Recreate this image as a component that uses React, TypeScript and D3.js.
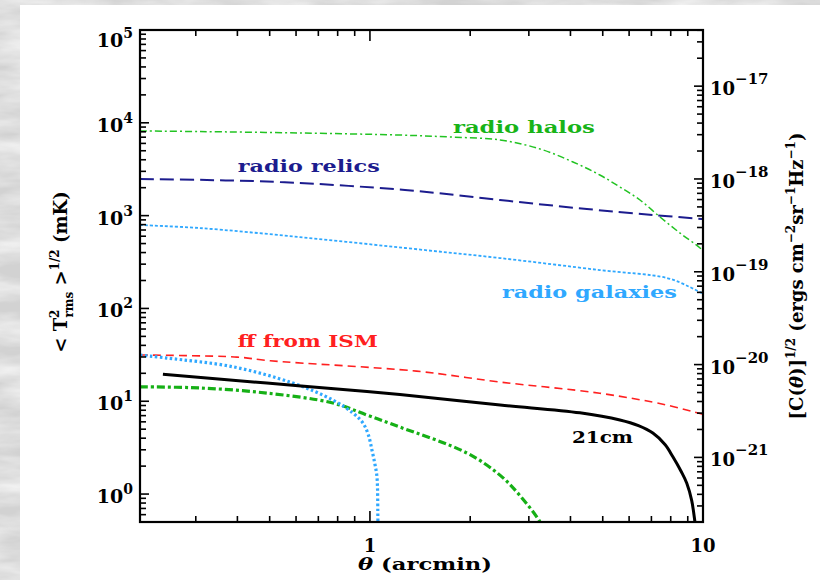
import React, { useEffect, useRef } from 'react';
import * as d3 from 'd3';

// theta in arcmin, T in mK
const halosTheta = [0.204, 0.308, 0.616, 1.23, 1.738, 2.46, 3.24, 4.07, 4.9, 5.63, 6.47, 7.43, 8.53, 9.8, 10.2];
const halosT = [8170, 8050, 7770, 7380, 7030, 6530, 5230, 3785, 2740, 2034, 1473, 966, 649, 448, 390];

const relicsTheta = [0.204, 0.324, 0.537, 1.274, 2.456, 4.48, 7.07, 9.9, 10.2];
const relicsT = [2478, 2420, 2300, 1888, 1473, 1178, 1016, 921, 910];

const galaxiesTheta = [0.204, 0.308, 0.616, 1.274, 2.456, 4.9, 7.79, 9.13, 9.9, 10.2];
const galaxiesT = [792, 735, 587, 448, 349, 259, 213, 170, 147, 140];

const ffTheta = [0.204, 0.399, 0.502, 1.38, 2.456, 4.9, 7.79, 9.9, 10.2];
const ffT = [31.5, 29.9, 27.3, 21.1, 16.1, 12.2, 9.1, 7.28, 7.1];

const cm21Theta = [0.239, 0.49, 0.98, 1.23, 2.46, 4.27, 5.63, 6.4, 7.07, 7.7, 8.12, 8.6, 8.94, 9.25, 9.46, 9.55];
const cm21T = [19.5, 15.7, 12.7, 11.8, 9.1, 7.5, 6.27, 5.45, 4.54, 3.4, 2.52, 1.75, 1.31, 0.85, 0.5, 0.4];

const blueThickTheta = [0.204, 0.246, 0.388, 0.587, 0.774, 0.889, 0.953, 0.99, 1.014, 1.035, 1.05, 1.057, 1.06];
const blueThickT = [31.5, 29.2, 23.5, 15.7, 10.3, 7.46, 5.82, 4.3, 2.98, 2.1, 1.52, 0.5, 0.4];

const greenThickTheta = [0.204, 0.308, 0.49, 0.774, 0.98, 1.23, 1.955, 2.456, 2.83, 3.24, 3.3];
const greenThickT = [14.3, 13.9, 12.25, 9.57, 7.1, 5.27, 2.77, 1.6, 0.95, 0.5, 0.42];

const labelTexts = ['radio halos', 'radio relics', 'radio galaxies', 'ff from ISM', '21cm'];
const labelTheta = [1.775, 0.401, 2.49, 0.401, 4.04];
const labelT = [7770, 2950, 129, 38.4, 3.54];

const leftTickExps = [0, 1, 2, 3, 4, 5];
const rightTickExps = [-21, -20, -19, -18, -17];
const xTickLabels = [1, 10];

// mK -> ergs cm^-2 sr^-1 Hz^-1
const convFactor = Math.pow(10, -21.395);

const W = 820;
const H = 580;
const plot = { left: 140, top: 30, right: 703, bottom: 522 };
const font = '"DejaVu Serif", serif';

const Chart = () => {
    const svgRef = useRef<SVGSVGElement>(null);

    useEffect(() => {
        const svg = d3.select(svgRef.current);
        svg.selectAll('*').remove();

        // backdrop
        const defs = svg.append('defs');
        const f = defs.append('filter').attr('id', 'marble')
            .attr('x', 0).attr('y', 0).attr('width', '100%').attr('height', '100%');
        f.append('feTurbulence').attr('type', 'fractalNoise')
            .attr('baseFrequency', '0.012 0.05').attr('numOctaves', 4).attr('seed', 7);
        f.append('feColorMatrix').attr('type', 'matrix')
            .attr('values', '0 0 0 0 1  0 0 0 0 1  0 0 0 0 1  1.4 0 0 0 -0.45');
        defs.append('clipPath').attr('id', 'plotClip').append('rect')
            .attr('x', plot.left).attr('y', plot.top)
            .attr('width', plot.right - plot.left).attr('height', plot.bottom - plot.top);

        svg.append('rect').attr('width', W).attr('height', H).attr('fill', '#d2d2d2');
        svg.append('rect').attr('width', W).attr('height', H).attr('filter', 'url(#marble)');
        svg.append('rect').attr('x', 20).attr('y', 5).attr('width', W - 20).attr('height', H - 5).attr('fill', '#fff');

        const x = d3.scaleLog().domain([0.204, 10]).range([plot.left, plot.right]);
        const y = d3.scaleLog().domain([0.5, 1e5]).range([plot.bottom, plot.top]);
        const yR = d3.scaleLog().domain([0.5 * convFactor, 1e5 * convFactor]).range([plot.bottom, plot.top]);

        const isMajor = (v: number) => Math.abs(Math.log10(v) - Math.round(Math.log10(v))) < 1e-6;

        // curves
        const series = [
            { th: halosTheta, t: halosT, color: '#22c322', width: 1.5, dash: '7 3 2 3' },
            { th: relicsTheta, t: relicsT, color: '#1c1c8e', width: 2, dash: '14 6' },
            { th: galaxiesTheta, t: galaxiesT, color: '#2fa8ff', width: 1.8, dash: '3 2' },
            { th: ffTheta, t: ffT, color: '#ff2020', width: 1.6, dash: '8 5' },
            { th: greenThickTheta, t: greenThickT, color: '#16b016', width: 3.2, dash: '8 3 3 3' },
            { th: blueThickTheta, t: blueThickT, color: '#2fa8ff', width: 3.2, dash: '2.5 2.5' },
            { th: cm21Theta, t: cm21T, color: '#000', width: 3, dash: null },
        ];
        const line = d3.line<[number, number]>()
            .x(d => x(d[0]))
            .y(d => y(d[1]))
            .curve(d3.curveCatmullRom.alpha(0.5));
        const g = svg.append('g').attr('clip-path', 'url(#plotClip)');
        series.forEach(s => {
            const pts: [number, number][] = s.th.map((v, i) => [v, s.t[i]]);
            g.append('path')
                .attr('d', line(pts))
                .attr('fill', 'none')
                .attr('stroke', s.color)
                .attr('stroke-width', s.width)
                .attr('stroke-dasharray', s.dash);
        });

        // ticks
        const tk = svg.append('g').attr('stroke', '#000').attr('stroke-width', 1.6);
        x.ticks().forEach(v => {
            const len = isMajor(v) ? 11 : 6;
            tk.append('line').attr('x1', x(v)).attr('x2', x(v)).attr('y1', plot.bottom).attr('y2', plot.bottom - len);
            tk.append('line').attr('x1', x(v)).attr('x2', x(v)).attr('y1', plot.top).attr('y2', plot.top + len);
        });
        y.ticks().forEach(v => {
            const len = isMajor(v) ? 9 : 6;
            tk.append('line').attr('x1', plot.left).attr('x2', plot.left + len).attr('y1', y(v)).attr('y2', y(v));
        });
        yR.ticks().forEach(v => {
            const len = isMajor(v) ? 9 : 6;
            tk.append('line').attr('x1', plot.right).attr('x2', plot.right - len).attr('y1', yR(v)).attr('y2', yR(v));
        });

        svg.append('rect')
            .attr('x', plot.left).attr('y', plot.top)
            .attr('width', plot.right - plot.left).attr('height', plot.bottom - plot.top)
            .attr('fill', 'none').attr('stroke', '#000').attr('stroke-width', 2.2);

        const txt = svg.append('g').attr('font-family', font).attr('font-weight', 'bold').attr('fill', '#000');

        // left tick labels
        leftTickExps.forEach(e => {
            const yy = Math.max(y(Math.pow(10, e)) + 9, plot.top + 17);
            const t = txt.append('text').attr('x', 133).attr('y', yy).attr('text-anchor', 'end').attr('font-size', 19);
            t.append('tspan').text('10');
            t.append('tspan').attr('dy', -9).attr('font-size', 14).text(String(e));
        });
        // right tick labels
        rightTickExps.forEach(e => {
            const yy = yR(Math.pow(10, e)) + 9;
            const t = txt.append('text').attr('x', 710).attr('y', yy).attr('font-size', 18);
            t.append('tspan').text('10');
            t.append('tspan').attr('dy', -11).attr('font-size', 15).text('\u2212' + String(-e));
        });
        // x tick labels
        xTickLabels.forEach(v => {
            txt.append('text').attr('x', x(v)).attr('y', 552).attr('text-anchor', 'middle')
                .attr('font-size', 18).text(String(v));
        });

        // axis titles
        const xt = txt.append('text').attr('x', 425).attr('y', 570).attr('text-anchor', 'middle')
            .attr('font-size', 17).attr('textLength', 134).attr('lengthAdjust', 'spacingAndGlyphs');
        xt.append('tspan').attr('font-style', 'italic').text('\u03b8');
        xt.append('tspan').text(' (arcmin)');

        const lt = txt.append('text').attr('transform', 'translate(67,272) rotate(-90)')
            .attr('text-anchor', 'middle').attr('font-size', 18);
        lt.append('tspan').text('< T');
        lt.append('tspan').attr('dy', -8).attr('font-size', 12).text('2');
        lt.append('tspan').attr('dx', -8).attr('dy', 14).attr('font-size', 12).text('rms');
        lt.append('tspan').attr('dy', -6).text(' >');
        lt.append('tspan').attr('dy', -8).attr('font-size', 12).text('1/2');
        lt.append('tspan').attr('dy', 8).text(' (mK)');

        const rt = txt.append('text').attr('transform', 'translate(803,276) rotate(-90)')
            .attr('text-anchor', 'middle').attr('font-size', 18);
        rt.append('tspan').text('[C(');
        rt.append('tspan').attr('font-style', 'italic').text('\u03b8');
        rt.append('tspan').text(')]');
        rt.append('tspan').attr('dy', -8).attr('font-size', 12).text('1/2');
        rt.append('tspan').attr('dy', 8).text(' (ergs cm');
        rt.append('tspan').attr('dy', -8).attr('font-size', 12).text('\u22122');
        rt.append('tspan').attr('dy', 8).text('sr');
        rt.append('tspan').attr('dy', -8).attr('font-size', 12).text('\u22121');
        rt.append('tspan').attr('dy', 8).text('Hz');
        rt.append('tspan').attr('dy', -8).attr('font-size', 12).text('\u22121');
        rt.append('tspan').attr('dy', 8).text(')');

        // curve labels
        const labelColors = ['#18b418', '#1c1c8e', '#2fa8ff', '#ff2020', '#000'];
        const labelWidths = [142, 142, 175, 140, 61];
        labelTexts.forEach((s, i) => {
            txt.append('text')
                .attr('x', x(labelTheta[i]))
                .attr('y', y(labelT[i]))
                .attr('font-size', 17)
                .attr('fill', labelColors[i])
                .attr('textLength', labelWidths[i])
                .attr('lengthAdjust', 'spacingAndGlyphs')
                .text(s);
        });
    }, []);

    return <svg ref={svgRef} width={W} height={H} style={{ display: 'block' }} />;
};

export default function App() {
    useEffect(() => {
        document.body.style.margin = '0';
    }, []);
    return <Chart />;
}
